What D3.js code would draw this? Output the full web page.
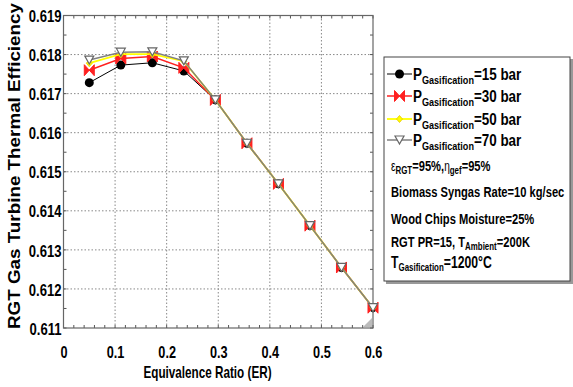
<!DOCTYPE html>
<html><head><meta charset="utf-8">
<script src="https://cdn.jsdelivr.net/npm/d3@7"></script>
<style>
body{margin:0;background:#fff;}
svg{display:block;}
.nar{font-family:"Liberation Sans",Arial,sans-serif;font-weight:bold;}
</style>
</head><body>
<svg id="c" width="573" height="387"></svg>
<script>
const er = [0.05, 0.1111, 0.1722, 0.2333, 0.2944, 0.3556, 0.4167, 0.4778, 0.5389, 0.6];
const eff15 = [0.61728, 0.61773, 0.61779, 0.61758, 0.61684, 0.61573, 0.61469, 0.61362, 0.61255, 0.61152];
const eff30 = [0.61760, 0.61790, 0.61795, 0.61766, 0.61684, 0.61573, 0.61469, 0.61362, 0.61255, 0.61152];
const eff50 = [0.61778, 0.61801, 0.61801, 0.61783, 0.61684, 0.61573, 0.61469, 0.61362, 0.61255, 0.61152];
const eff70 = [0.61786, 0.61806, 0.61807, 0.61784, 0.61684, 0.61573, 0.61469, 0.61362, 0.61255, 0.61152];
const xTicks = [0, 0.1, 0.2, 0.3, 0.4, 0.5, 0.6];
const yTicks = [0.611, 0.612, 0.613, 0.614, 0.615, 0.616, 0.617, 0.618, 0.619];
const pressures = ["15", "30", "50", "70"];

const svg = d3.select("#c");
const L = 63.5, R = 373, T = 15.5, B = 328;
const x = d3.scaleLinear().domain([0, 0.6]).range([L, R]);
const y = d3.scaleLinear().domain([0.611, 0.619]).range([B, T]);
const SX = 0.77;

// grid
const grid = svg.append("g").attr("stroke", "#888").attr("stroke-width", 1).attr("stroke-dasharray", "1.5,2");
xTicks.slice(1, -1).forEach(v => grid.append("line").attr("x1", x(v)).attr("x2", x(v)).attr("y1", T).attr("y2", B));
yTicks.slice(1, -1).forEach(v => grid.append("line").attr("x1", L).attr("x2", R).attr("y1", y(v)).attr("y2", y(v)));

// axes
const xMinor = d3.range(0, 0.6001, 0.02);
const yMinor = d3.range(0.611, 0.61901, 0.0005);
const gx = svg.append("g").attr("transform", `translate(0,${B})`)
  .call(d3.axisBottom(x).tickValues(xTicks).tickFormat(d => d === 0 ? "0" : d3.format(".1f")(d)).tickSize(0).tickPadding(0));
gx.select(".domain").remove();
gx.selectAll("text").attr("class", "nar").style("font-size", "16.5px").attr("fill", "#000")
  .attr("y", 0).attr("dy", null).attr("transform", `translate(0,30) scale(${SX},1)`);
const gy = svg.append("g").attr("transform", `translate(${L},0)`)
  .call(d3.axisLeft(y).tickValues(yTicks).tickFormat(d3.format(".3f")).tickSize(0).tickPadding(0));
gy.select(".domain").remove();
gy.selectAll("text").attr("class", "nar").style("font-size", "17px").attr("fill", "#000")
  .attr("x", 0).attr("dy", "0.36em").attr("transform", `translate(-2,0) scale(${SX},1)`);

const tk = svg.append("g").attr("stroke", "#555").attr("stroke-width", 1);
xMinor.forEach(v => {
  tk.append("line").attr("x1", x(v)).attr("x2", x(v)).attr("y1", B).attr("y2", B - 3);
  tk.append("line").attr("x1", x(v)).attr("x2", x(v)).attr("y1", T).attr("y2", T + 3);
});
yMinor.forEach(v => {
  tk.append("line").attr("x1", L).attr("x2", L + 3).attr("y1", y(v)).attr("y2", y(v));
  tk.append("line").attr("x1", R).attr("x2", R - 3).attr("y1", y(v)).attr("y2", y(v));
});
svg.append("rect").attr("x", L).attr("y", T).attr("width", R - L).attr("height", B - T)
  .attr("fill", "none").attr("stroke", "#666").attr("stroke-width", 1.2);

// resize grip artifact
svg.append("path").attr("d", `M${R-1},${B-10} L${R-1},${B-1} L${R-10},${B-1} Z`).attr("fill", "#bbb");

// series
const series = [
  {p: pressures[0], v: eff15, color: "#000", sw: 1, marker: "circle"},
  {p: pressures[1], v: eff30, color: "#ff2020", sw: 1.5, marker: "bowtie"},
  {p: pressures[2], v: eff50, color: "#ffff00", sw: 1.8, marker: "diamond"},
  {p: pressures[3], v: eff70, color: "#808080", sw: 1.5, marker: "tri"}
];
function drawMarker(g, type, cx, cy) {
  if (type === "circle") g.append("circle").attr("cx", cx).attr("cy", cy).attr("r", 4.5).attr("fill", "#000");
  if (type === "bowtie") g.append("path").attr("d", `M${cx-5},${cy-5.5} L${cx+5},${cy+5.5} L${cx+5},${cy-5.5} L${cx-5},${cy+5.5} Z`).attr("fill", "#ff2020").attr("stroke", "#ff2020").attr("stroke-width", 1);
  if (type === "diamond") g.append("path").attr("d", `M${cx},${cy-3.5} L${cx+3},${cy} L${cx},${cy+3.5} L${cx-3},${cy} Z`).attr("fill", "#ffff00").attr("stroke", "#e8c800").attr("stroke-width", 0.8);
  if (type === "tri") g.append("path").attr("d", `M${cx-4.5},${cy-4} L${cx+4.5},${cy-4} L${cx},${cy+4} Z`).attr("fill", "#fff").attr("stroke", "#666").attr("stroke-width", 1.2);
}
const line = d3.line().x((d, i) => x(er[i])).y(d => y(d));
series.forEach(s => {
  const g = svg.append("g");
  g.append("path").datum(s.v).attr("d", line).attr("fill", "none").attr("stroke", s.color).attr("stroke-width", s.sw);
  s.v.forEach((d, i) => drawMarker(g, s.marker, x(er[i]), y(d)));
});

// y label
svg.append("text").attr("transform", "translate(20,166) rotate(-90)").attr("text-anchor", "middle")
  .attr("font-family", "Liberation Sans, Arial, sans-serif").attr("font-weight", "bold").attr("font-size", 16)
  .attr("textLength", 326).attr("lengthAdjust", "spacingAndGlyphs")
  .text("RGT Gas Turbine Thermal Efficiency");
// x label
svg.append("text").attr("class", "nar").attr("text-anchor", "middle")
  .attr("transform", `translate(207.5,378) scale(0.71,1)`)
  .style("font-size", "16.5px").text("Equivalence Ratio (ER)");

// legend box
const lg = svg.append("g");
lg.append("rect").attr("x", 386).attr("y", 59).attr("width", 187).attr("height", 225).attr("fill", "#999");
lg.append("rect").attr("x", 384).attr("y", 57).attr("width", 186).attr("height", 224).attr("fill", "#fff").attr("stroke", "#444").attr("stroke-width", 1);
const rowsY = [74, 96, 119, 140];
series.forEach((s, i) => {
  const cy = rowsY[i];
  lg.append("line").attr("x1", 387).attr("x2", 412).attr("y1", cy).attr("y2", cy).attr("stroke", s.color).attr("stroke-width", s.sw);
  drawMarker(lg, s.marker, 399.5, cy);
  const t = lg.append("text").attr("class", "nar").attr("transform", `translate(413,${cy + 6}) scale(0.79,1)`).style("font-size", "17px");
  t.append("tspan").text("P");
  t.append("tspan").attr("dy", 4).style("font-size", "11.5px").text("Gasification");
  t.append("tspan").attr("dy", -4).text("=" + s.p + " bar");
});
function para(yb, size, parts) {
  const t = lg.append("text").attr("class", "nar").attr("transform", `translate(391,${yb}) scale(0.72,1)`).style("font-size", size + "px");
  parts.forEach(p => {
    const ts = t.append("tspan").text(p[0]);
    if (p[1] === "sub") ts.attr("dy", 3).style("font-size", "11px");
    if (p[1] === "up") ts.attr("dy", -3);
    if (p[1] === "sm") ts.style("font-size", "14px").style("font-weight", "normal");
  });
}
para(171, 15.5, [["ε", "sm"], ["RGT", "sub"], ["=95%,", "up"], ["η", "sm"], ["gef", "sub"], ["=95%", "up"]]);
para(197, 15.5, [["Biomass Syngas Rate=10 kg/sec"]]);
para(224, 15.5, [["Wood Chips Moisture=25%"]]);
para(247, 15.5, [["RGT PR=15, T"], ["Ambient", "sub"], ["=200K", "up"]]);
para(268, 17, [["T"], ["Gasification", "sub"], ["=1200°C", "up"]]);
</script>
</body></html>
